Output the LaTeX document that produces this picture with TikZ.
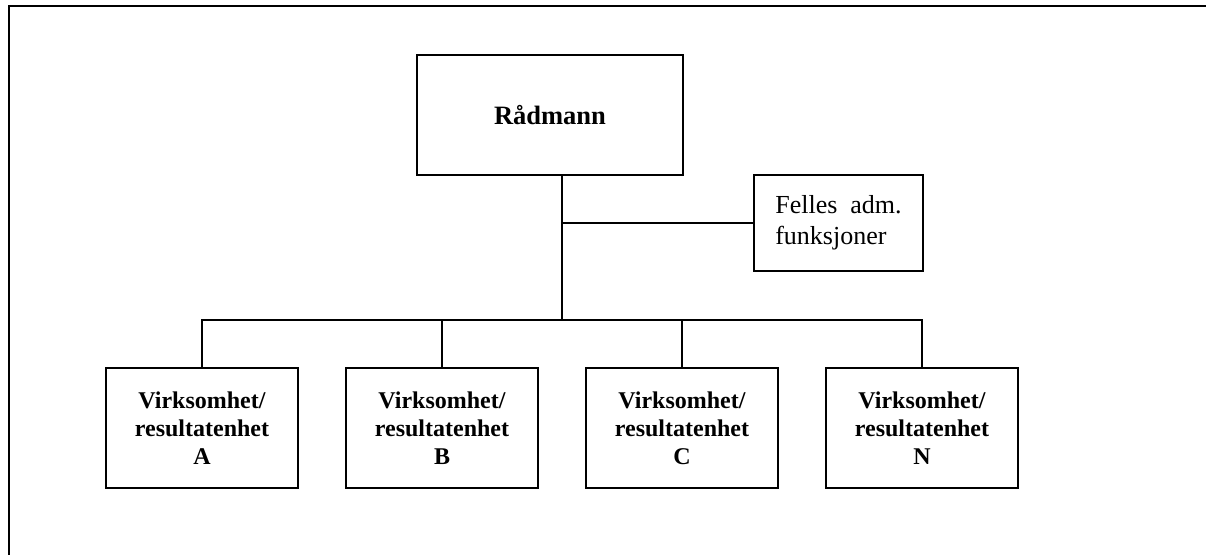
\documentclass[tikz,border=0pt]{standalone}
\usepackage{fontspec}
\setmainfont{Liberation Serif}
\begin{document}
\begin{tikzpicture}[x=1pt,y=-1pt,
  unitbox/.style={draw,line width=1.6pt,minimum width=192pt,minimum height=120pt,
    align=center,font=\fontsize{24}{28}\selectfont\bfseries,inner sep=0pt},
  topbox/.style={draw,line width=1.6pt,minimum width=266pt,minimum height=120pt,
    font=\fontsize{26.5}{30}\selectfont\bfseries,inner sep=0pt},
  sidebox/.style={draw,line width=1.6pt,minimum width=169pt,minimum height=96pt,
    align=left,font=\fontsize{26}{31}\selectfont,inner sep=0pt},
  conn/.style={line width=1.6pt}]
\useasboundingbox (0,0) rectangle (1206,555);
\coordinate (frTR) at (1206,6);
\coordinate (frTL) at (8.5,6);
\coordinate (frBL) at (8.5,555);
\draw[line width=2pt] (frTR) -- (frTL) -- (frBL);

\node[topbox] (rad) at (550,115) {Rådmann};
\node[sidebox] (fel) at (838.5,223) {Felles\ \ adm.\\funksjoner};

\node[unitbox] (a) at (202,428) {Virksomhet/\\resultatenhet\\A};
\node[unitbox] (b) at (442,428) {Virksomhet/\\resultatenhet\\B};
\node[unitbox] (c) at (682,428) {Virksomhet/\\resultatenhet\\C};
\node[unitbox] (n) at (922,428) {Virksomhet/\\resultatenhet\\N};

\coordinate (j1) at (562,223);
\coordinate (j2) at (562,320);
\draw[conn] (rad.south -| j1) -- (j2);
\draw[conn] (j1) -- (fel.west);
\draw[conn] (a.north) -- (a.north |- j2) -- (n.north |- j2) -- (n.north);
\draw[conn] (b.north) -- (b.north |- j2);
\draw[conn] (c.north) -- (c.north |- j2);
\end{tikzpicture}
\end{document}
